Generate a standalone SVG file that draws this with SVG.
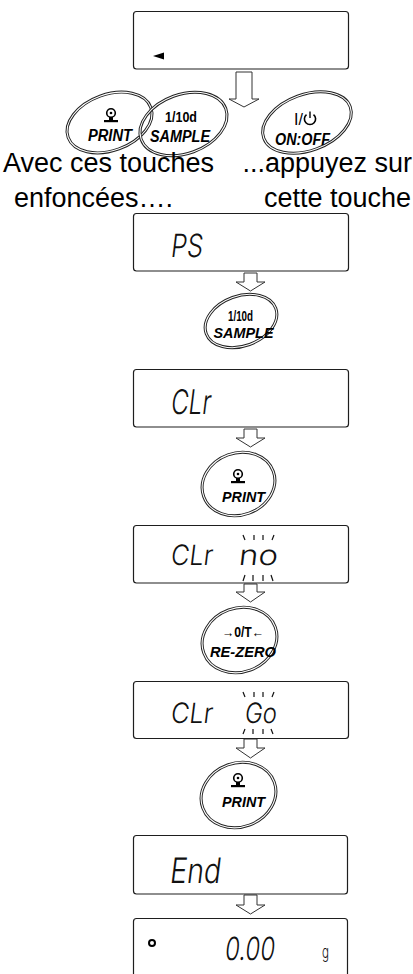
<svg xmlns="http://www.w3.org/2000/svg" width="413" height="974" viewBox="0 0 413 974">
<style>
.disp{fill:#fff;stroke:#1e1e1e;stroke-width:1.2}
.seg{font-family:Inter,"DejaVu Sans",sans-serif;font-weight:300;fill:#111}
.bo{fill:none;stroke:#222;stroke-width:3}
.bi{fill:none;stroke:#fff;stroke-width:1.1}
.bt{font-family:"Liberation Sans",Arial,sans-serif;font-weight:bold;fill:#000;text-anchor:middle}
.bti{font-family:"Liberation Sans",Arial,sans-serif;font-weight:bold;font-style:italic;fill:#000;text-anchor:middle}
.lbl{font-family:"Liberation Sans",Arial,sans-serif;font-size:27px;fill:#000}
.arr{fill:#fff;stroke:#333;stroke-width:1}
.blink{stroke:#111;stroke-width:1.2;fill:none}
.ic{fill:none;stroke:#000;stroke-width:1.6}
</style>
<defs>
<g id="printIcon">
<circle cx="0" cy="0" r="4.3" class="ic"/>
<circle cx="0" cy="0" r="1.3" fill="#000"/>
<rect x="-2" y="4" width="4" height="3" fill="#000"/>
<rect x="-7" y="7" width="14" height="2.2" fill="#000"/>
</g>
</defs>
<rect width="413" height="974" fill="#fff"/>

<g id="connectors">
<path class="arr" d="M236,72 L252,72 L252,99 L259,99 L244,107 L229,99 L236,99 Z"/>
<path class="arr" d="M244,273 L257,273 L257,282 L265,282 L250.5,291 L236,282 L244,282 Z"/>
<path class="arr" d="M244,429 L257,429 L257,438 L265,438 L250.5,447 L236,438 L244,438 Z"/>
<path class="arr" d="M244,584 L257,584 L257,592 L265,592 L250.5,602 L236,592 L244,592 Z"/>
<path class="arr" d="M244,739 L257,739 L257,748 L265,748 L250.5,758 L236,748 L244,748 Z"/>
<path class="arr" d="M244,895 L257,895 L257,905 L265,905 L250.5,914 L236,905 L244,905 Z"/>
</g>

<g id="display-1">
<rect class="disp" x="133.5" y="11.5" width="215" height="57.5" rx="3"/>
<path d="M153,56 L164,52.5 L164,59.5 Z" fill="#000"/>
</g>

<g id="btn-print-1">
<ellipse class="bo" cx="109.5" cy="122.5" rx="44" ry="28" transform="rotate(-20 109.5 122.5)"/>
<ellipse class="bi" cx="109.5" cy="122.5" rx="44" ry="28" transform="rotate(-20 109.5 122.5)"/>
<use href="#printIcon" x="111" y="113"/>
<text class="bti" x="110" y="141" font-size="16" textLength="44" lengthAdjust="spacingAndGlyphs">PRINT</text>
</g>

<g id="btn-sample-1">
<ellipse class="bo" cx="183.5" cy="124" rx="45" ry="29.5" transform="rotate(-20 183.5 124)"/>
<ellipse class="bi" cx="183.5" cy="124" rx="45" ry="29.5" transform="rotate(-20 183.5 124)"/>
<text class="bt" x="181" y="122" font-size="15" textLength="32" lengthAdjust="spacingAndGlyphs">1/10d</text>
<text class="bti" x="180" y="142" font-size="16" textLength="60" lengthAdjust="spacingAndGlyphs">SAMPLE</text>
</g>

<g id="btn-onoff">
<ellipse class="bo" cx="307" cy="122.5" rx="46" ry="28" transform="rotate(-20 307 122.5)"/>
<ellipse class="bi" cx="307" cy="122.5" rx="46" ry="28" transform="rotate(-20 307 122.5)"/>
<text x="303" y="125" font-family="Liberation Sans,Arial,sans-serif" font-size="16" text-anchor="end" fill="#000">I/</text>
<path d="M306.5,114.6 A5.6,5.6 0 1 0 313.5,114.6" class="ic" stroke-width="1.4"/>
<line x1="310" y1="111.5" x2="310" y2="118" stroke="#000" stroke-width="1.4"/>
<text class="bti" x="302.5" y="145" font-size="16" textLength="55" lengthAdjust="spacingAndGlyphs">ON:OFF</text>
</g>

<g id="labels">
<text class="lbl" x="3" y="172">Avec ces touches</text>
<text class="lbl" x="412" y="172" text-anchor="end">...appuyez sur</text>
<text class="lbl" x="14" y="207">enfoncées….</text>
<text class="lbl" x="411" y="207" text-anchor="end">cette touche</text>
</g>

<g id="display-2">
<rect class="disp" x="133.5" y="213.5" width="215" height="57.5" rx="3"/>
<text class="seg" transform="translate(170,257) skewX(-7)" font-size="32" textLength="32" lengthAdjust="spacingAndGlyphs">PS</text>
</g>

<g id="btn-sample-2">
<ellipse class="bo" cx="241" cy="321" rx="37" ry="25" transform="rotate(-20 241 321)"/>
<ellipse class="bi" cx="241" cy="321" rx="37" ry="25" transform="rotate(-20 241 321)"/>
<text class="bt" x="240.5" y="321" font-size="14" textLength="25" lengthAdjust="spacingAndGlyphs">1/10d</text>
<text class="bti" x="243.5" y="338" font-size="14" textLength="60" lengthAdjust="spacingAndGlyphs">SAMPLE</text>
</g>

<g id="display-3">
<rect class="disp" x="133.5" y="369.5" width="215" height="57.5" rx="3"/>
<text class="seg" transform="translate(170,414) skewX(-7)" font-size="34" textLength="40" lengthAdjust="spacingAndGlyphs">CLr</text>
</g>

<g id="btn-print-2">
<ellipse class="bo" cx="238.5" cy="484" rx="37" ry="31" transform="rotate(-20 238.5 484)"/>
<ellipse class="bi" cx="238.5" cy="484" rx="37" ry="31" transform="rotate(-20 238.5 484)"/>
<use href="#printIcon" x="238" y="474"/>
<text class="bti" x="243.5" y="502" font-size="15" textLength="43" lengthAdjust="spacingAndGlyphs">PRINT</text>
</g>

<g id="display-4">
<rect class="disp" x="133.5" y="525.5" width="215" height="57.5" rx="3"/>
<text class="seg" transform="translate(170,565) skewX(-7)" font-size="28" textLength="42" lengthAdjust="spacingAndGlyphs">CLr</text>
<text class="seg" transform="translate(238,565) skewX(-7)" font-size="28" textLength="39" lengthAdjust="spacingAndGlyphs">no</text>
<path class="blink" d="M243,535 L245,540 M254,535 L254,540 M263,535 L263,540 M274,535 L272,540 M245,575 L243,581 M253,575 L253,581 M263,575 L263,581 M271,575 L273,581"/>
</g>

<g id="btn-rezero">
<ellipse class="bo" cx="239.5" cy="640" rx="38" ry="32" transform="rotate(-20 239.5 640)"/>
<ellipse class="bi" cx="239.5" cy="640" rx="38" ry="32" transform="rotate(-20 239.5 640)"/>
<text class="bt" x="243" y="637" font-size="14" textLength="42" lengthAdjust="spacingAndGlyphs">→0/T←</text>
<text class="bti" x="243" y="657" font-size="15" textLength="66" lengthAdjust="spacingAndGlyphs">RE-ZERO</text>
</g>

<g id="display-5">
<rect class="disp" x="133.5" y="681.5" width="215" height="57" rx="3"/>
<text class="seg" transform="translate(170,723) skewX(-7)" font-size="28" textLength="42" lengthAdjust="spacingAndGlyphs">CLr</text>
<text class="seg" transform="translate(244,723) skewX(-7)" font-size="28" textLength="32" lengthAdjust="spacingAndGlyphs">Go</text>
<path class="blink" d="M243,692 L245,697 M254,692 L254,697 M263,692 L263,697 M274,692 L272,697 M245,729 L243,734 M253,729 L253,734 M263,729 L263,734 M271,729 L273,734"/>
</g>

<g id="btn-print-3">
<ellipse class="bo" cx="238.5" cy="795" rx="38" ry="32" transform="rotate(-20 238.5 795)"/>
<ellipse class="bi" cx="238.5" cy="795" rx="38" ry="32" transform="rotate(-20 238.5 795)"/>
<use href="#printIcon" x="238" y="778"/>
<text class="bti" x="243.5" y="807" font-size="15" textLength="43" lengthAdjust="spacingAndGlyphs">PRINT</text>
</g>

<g id="display-6">
<rect class="disp" x="133.5" y="835.5" width="214" height="58.5" rx="3"/>
<text class="seg" transform="translate(169,883) skewX(-7)" font-size="35" textLength="51" lengthAdjust="spacingAndGlyphs">End</text>
</g>

<g id="display-7">
<rect class="disp" x="133.5" y="918.5" width="214" height="70" rx="3"/>
<circle cx="152" cy="943" r="3" fill="none" stroke="#000" stroke-width="2"/>
<text class="seg" transform="translate(224,960) skewX(-7)" font-size="32" textLength="50" lengthAdjust="spacingAndGlyphs">0.00</text>
<text class="seg" x="322" y="958" font-size="17" textLength="7" lengthAdjust="spacingAndGlyphs">g</text>
</g>
</svg>
